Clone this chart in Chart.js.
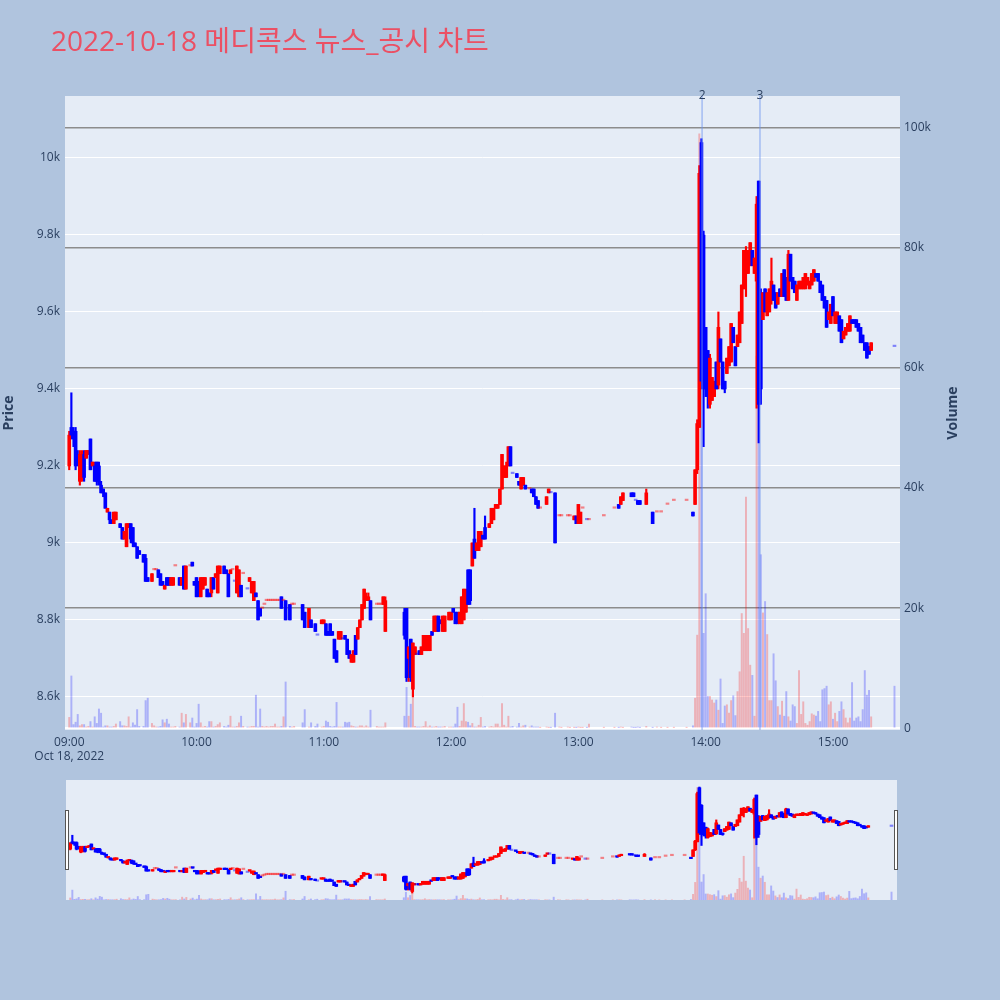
<!DOCTYPE html>
<html>
<head>
<meta charset="utf-8">
<script src="https://cdn.jsdelivr.net/npm/chart.js@4.4.0/dist/chart.umd.min.js"></script>
<style>
  body { margin: 0; background: #b0c4de; width: 1000px; height: 1000px; overflow: hidden; position: relative; }
  #main { position: absolute; left: 0; top: 0; }
  #slider { position: absolute; left: 0; top: 770px; }
</style>
</head>
<body>
<canvas id="main" width="1000" height="770"></canvas>
<canvas id="slider" width="1000" height="230"></canvas>
<script>
// 1분봉, 분 단위 = 09:00 부터 경과 분
const minutes = [
  0,1,2,3,4,5,6,7,8,9, 10,11,12,13,14,15,16,17,18,19, 20,21,22,24,25,26,27,28,29,30,
  31,32,33,35,36,37,39,40,41,42, 43,44,45,46,47,48,49,50,52,53, 54,55,57,58,59,60,61,62,63,64,
  65,66,67,68,69,70,71,73,74,75, 76,77,78,79,80,81,82,84,85,86, 87,88,89,90,91,92,93,94,95,96,
  97,98,99,100,101,102,104,105,106,110, 111,113,114,116,117,119,120,121,122,123, 124,125,126,127,128,129,130,131,132,133,
  134,135,136,137,138,139,140,141,142,145, 146,147,148,149,158,159,160,161,162,163, 164,165,166,167,168,169,170,171,172,173,
  174,175,176,177,179,180,181,182,183,184, 185,186,187,188,189,190,191,192,193,194, 195,196,198,199,200,201,202,203,204,205,
  206,207,208,209,211,212,213,214,215,217, 218,219,220,221,222,225,226,227,229,231, 232,235,236,238,239,240,241,242,244,245,
  252,257,259,260,261,265,266,267,268,269, 272,275,277,279,282,285,291,294,295,296,
  297,298,299,300,301,302,303,304,305,306, 307,308,309,310,311,312,313,314,315,316, 317,318,319,320,321,322,323,324,325,326,
  327,328,329,330,331,332,333,334,335,336, 337,338,339,340,341,342,343,344,345,346, 347,348,349,350,351,352,353,354,355,356,
  357,358,359,360,361,362,363,364,365,366, 367,368,369,370,371,372,373,374,375,376, 377,378,389
];
const opens = [
  9200,9300,9290,9290,9230,9160,9170,9230,9220,9230, 9270,9200,9200,9210,9200,9150,9140,9130,9080,9080, 9060,9050,9060,9050,9040,9010,8990,9040,9050,9040,
  9000,8990,8980,8970,8960,8910,8900,8930,8930,8930, 8920,8900,8880,8910,8910,8890,8890,8940,8910,8890, 8940,8880,8940,8950,8900,8910,8900,8860,8880,8890,
  8880,8870,8870,8910,8910,8870,8920,8940,8930,8920, 8920,8930,8900,8870,8860,8890,8920,8880,8900,8870, 8850,8870,8850,8830,8830,8840,8850,8850,8850,8850,
  8850,8850,8850,8860,8850,8850,8840,8840,8840,8840, 8820,8780,8800,8790,8760,8790,8790,8790,8770,8790, 8770,8750,8720,8750,8750,8750,8760,8750,8720,8690,
  8690,8760,8750,8780,8800,8830,8850,8850,8850,8840, 8840,8840,8840,8770,8820,8830,8700,8750,8620,8710, 8710,8720,8710,8720,8720,8720,8720,8770,8770,8770,
  8810,8800,8770,8770,8800,8800,8830,8820,8820,8790, 8790,8800,8820,8930,8930,8940,9010,8980,8980,8990, 9020,9040,9040,9050,9060,9090,9090,9100,9140,9170,
  9170,9200,9250,9180,9180,9160,9140,9150,9150,9140, 9140,9140,9120,9110,9090,9100,9130,9130,9130,9070, 9070,9070,9070,9060,9070,9050,9050,9090,9060,9060,
  9070,9090,9100,9100,9110,9130,9130,9110,9110,9110, 9100,9080,9080,9080,9100,9110,9110,9080,9100,9190,
  9300,10040,9800,9560,9500,9360,9370,9380,9470,9410, 9530,9470,9420,9440,9460,9470,9560,9510,9510,9520, 9570,9660,9700,9700,9720,9760,9700,9680,9940,9650,
  9580,9660,9590,9600,9630,9670,9650,9620,9660,9640, 9710,9690,9630,9750,9690,9680,9630,9660,9660,9660, 9660,9670,9660,9670,9680,9700,9700,9680,9670,9640,
  9630,9580,9570,9640,9570,9570,9590,9580,9530,9540, 9550,9550,9580,9580,9580,9570,9560,9540,9520,9520, 9510,9500,9510
];
const highs = [
  9290,9390,9300,9300,9240,9240,9240,9240,9240,9240, 9270,9210,9210,9210,9210,9160,9140,9130,9090,9080, 9060,9080,9080,9050,9040,9030,9050,9050,9050,9040,
  9000,8990,8980,8970,8970,8910,8920,8930,8930,8930, 8920,8900,8890,8910,8910,8910,8910,8940,8910,8910, 8940,8940,8940,8950,8900,8910,8900,8910,8910,8910,
  8880,8870,8910,8910,8920,8940,8940,8940,8930,8920, 8930,8930,8900,8940,8930,8890,8920,8880,8910,8900, 8900,8870,8850,8830,8830,8840,8850,8850,8850,8850,
  8850,8850,8850,8860,8850,8850,8840,8840,8840,8840, 8820,8830,8800,8790,8760,8800,8800,8790,8770,8790, 8770,8750,8720,8770,8770,8750,8760,8750,8720,8710,
  8720,8760,8780,8800,8840,8880,8870,8870,8850,8840, 8840,8840,8860,8860,8830,8830,8730,8750,8740,8730, 8710,8720,8730,8760,8760,8760,8760,8770,8810,8810,
  8810,8800,8810,8810,8820,8820,8830,8820,8820,8820, 8860,8880,8880,8930,8930,9000,9090,9000,9030,9030, 9020,9070,9050,9090,9090,9100,9100,9140,9230,9200,
  9210,9250,9250,9180,9180,9160,9170,9170,9150,9140, 9140,9140,9120,9110,9090,9120,9140,9130,9130,9070, 9070,9070,9070,9070,9070,9100,9080,9090,9060,9060,
  9070,9090,9100,9120,9130,9130,9130,9110,9110,9110, 9140,9080,9080,9080,9100,9110,9110,9080,9190,9320,
  9980,10050,9810,9560,9500,9490,9430,9420,9470,9600, 9530,9470,9420,9480,9510,9570,9560,9510,9540,9600, 9670,9760,9770,9760,9780,9760,9740,9900,9940,9660,
  9650,9660,9650,9660,9740,9670,9650,9650,9660,9700, 9710,9690,9760,9750,9690,9680,9670,9680,9680,9690, 9700,9690,9680,9700,9710,9700,9700,9680,9670,9640,
  9630,9600,9620,9640,9600,9600,9590,9580,9550,9560, 9570,9590,9580,9580,9580,9570,9560,9540,9520,9520, 9510,9520,9510
];
const lows = [
  9190,9270,9250,9190,9200,9150,9160,9160,9220,9230, 9190,9200,9160,9150,9150,9130,9120,9090,9080,9050, 9050,9050,9060,9040,9010,9010,8990,9040,9000,8990,
  8990,8960,8970,8950,8900,8900,8900,8930,8930,8910, 8890,8890,8880,8890,8890,8890,8890,8940,8890,8890, 8880,8880,8940,8940,8890,8860,8860,8860,8880,8890,
  8860,8860,8860,8880,8910,8870,8920,8920,8920,8860, 8920,8930,8900,8870,8860,8860,8920,8880,8900,8870, 8850,8860,8800,8810,8830,8840,8850,8850,8850,8850,
  8850,8850,8850,8830,8850,8800,8800,8840,8840,8800, 8780,8780,8780,8770,8760,8790,8790,8760,8760,8760, 8760,8700,8690,8750,8750,8750,8750,8710,8700,8690,
  8690,8710,8750,8780,8800,8830,8850,8850,8800,8840, 8840,8840,8840,8770,8750,8640,8640,8640,8600,8710, 8710,8710,8710,8720,8720,8720,8720,8760,8770,8770,
  8770,8790,8770,8770,8800,8800,8820,8790,8790,8790, 8790,8800,8820,8840,8840,8940,8960,8980,8980,8990, 9010,9010,9040,9050,9060,9090,9090,9100,9140,9170,
  9170,9200,9200,9180,9170,9150,9140,9150,9140,9140, 9130,9120,9100,9090,9090,9100,9130,9130,9000,9070, 9070,9070,9070,9060,9050,9050,9050,9090,9060,9060,
  9070,9090,9090,9100,9110,9120,9120,9110,9100,9100, 9100,9050,9080,9080,9100,9110,9110,9070,9100,9180,
  9300,9400,9250,9380,9350,9350,9370,9380,9400,9400, 9470,9400,9390,9440,9460,9470,9520,9460,9510,9520, 9570,9660,9640,9700,9720,9720,9700,9350,9260,9360,
  9580,9600,9590,9600,9620,9630,9610,9620,9640,9640, 9640,9630,9630,9680,9660,9650,9630,9660,9660,9660, 9660,9670,9660,9670,9680,9690,9680,9650,9630,9610,
  9560,9580,9570,9590,9570,9570,9550,9520,9530,9540, 9550,9550,9570,9570,9560,9550,9520,9520,9500,9480, 9490,9500,9510
];
const closes = [
  9280,9280,9270,9200,9210,9230,9220,9170,9240,9240, 9190,9210,9160,9160,9160,9130,9130,9090,9090,9060, 9050,9080,9080,9040,9010,9030,9050,9050,9010,9000,
  8990,8960,8970,8950,8900,8900,8920,8930,8930,8910, 8890,8890,8890,8890,8890,8910,8910,8940,8890,8910, 8880,8940,8940,8940,8890,8860,8870,8910,8910,8910,
  8860,8860,8910,8880,8920,8940,8940,8920,8920,8860, 8930,8930,8900,8940,8930,8860,8920,8880,8910,8900, 8900,8860,8800,8810,8830,8840,8850,8850,8850,8850,
  8850,8850,8850,8830,8850,8800,8800,8840,8840,8800, 8780,8830,8780,8770,8760,8800,8800,8760,8760,8760, 8760,8700,8690,8770,8770,8750,8750,8710,8700,8710,
  8720,8710,8780,8800,8840,8880,8860,8860,8800,8840, 8840,8840,8860,8850,8760,8650,8730,8650,8740,8730, 8710,8710,8730,8760,8760,8760,8760,8760,8810,8810,
  8770,8790,8810,8810,8820,8820,8820,8790,8790,8820, 8860,8880,8870,8840,8850,9000,8960,9000,9030,9030, 9010,9010,9050,9090,9090,9100,9100,9140,9230,9200,
  9200,9250,9200,9180,9170,9150,9170,9170,9140,9140, 9130,9120,9100,9090,9090,9120,9140,9130,9000,9070, 9070,9070,9070,9070,9050,9100,9080,9090,9060,9060,
  9070,9090,9090,9120,9130,9120,9120,9110,9100,9100, 9130,9050,9080,9080,9100,9110,9110,9070,9190,9310,
  9960,9420,9400,9400,9380,9480,9430,9420,9400,9560, 9470,9400,9400,9480,9510,9570,9520,9460,9540,9600, 9670,9760,9760,9760,9780,9720,9740,9880,9360,9400,
  9650,9600,9650,9660,9680,9630,9610,9650,9640,9700, 9640,9630,9750,9680,9660,9650,9670,9680,9680,9690, 9700,9690,9680,9700,9710,9690,9680,9650,9630,9610,
  9560,9600,9620,9590,9600,9600,9550,9520,9550,9560, 9570,9590,9570,9570,9560,9550,9520,9520,9500,9480, 9490,9520,9510
];
const volumes = [
  1800,8700,600,1000,2300,400,600,600,200,300, 1100,200,1900,800,3200,2500,200,400,400,200, 200,300,700,1100,400,400,300,1900,200,900,
  500,3100,300,300,4600,5000,800,400,200,200, 300,1400,900,1500,700,200,200,300,200,2500, 900,2300,900,1700,200,800,4000,900,200,300,
  200,1100,1100,200,300,600,900,300,200,500, 2000,200,200,300,900,2000,300,200,200,300, 300,5500,200,3200,300,200,300,200,300,300,
  700,200,200,300,1900,7700,300,200,300,900, 3100,200,900,300,700,200,300,1200,1000,300, 200,300,4300,200,200,200,1000,900,1000,400,
  300,200,200,400,400,200,400,200,3000,300, 200,200,200,900,2000,6800,2000,4000,6000,300, 200,200,200,300,1100,200,400,200,200,300,
  200,200,200,300,200,200,200,700,3500,300, 1200,4100,1100,1000,400,800,200,200,500,1800, 200,300,200,300,200,700,700,200,4100,500,
  200,2000,200,300,200,800,200,400,500,200, 400,200,200,200,100,200,100,100,2500,200, 100,200,100,100,100,200,100,100,100,700,
  100,100,100,200,100,200,100,100,200,100, 300,100,200,100,100,100,100,400,5000,15500,
  99000,90000,15800,22400,5300,5300,4700,4200,4700,3000, 8200,800,3700,3900,2500,4600,5400,2100,6100,9400, 19100,15800,38500,16600,10500,8800,2000,62000,70000,28900,
  19200,21100,15600,4600,4600,12400,7900,3600,2200,4500, 2000,6100,1900,1200,3900,3600,800,9600,2300,4400, 800,500,1100,2400,2200,2000,2800,1100,6400,6600,
  7000,3900,4400,1500,2500,1100,2800,4400,3100,1700, 900,1700,7600,1200,1700,1900,1100,3100,9600,5500, 6300,1900,7000
];

// 뉴스/공시 시점 (분)
const newsMinutes = [298.3, 325.6];
const newsLabels = ['2', '3'];

const hourTicks = [0, 60, 120, 180, 240, 300, 360];
const hourLabels = ['09:00', '10:00', '11:00', '12:00', '13:00', '14:00', '15:00'];
const dateLabel = 'Oct 18, 2022';
const priceTicks = [8600, 8800, 9000, 9200, 9400, 9600, 9800, 10000];
const volumeTicks = [0, 20000, 40000, 60000, 80000, 100000];

const titleText = '2022-10-18 메디콕스 뉴스_공시 차트';
const FONT = '"Open Sans", "Noto Sans CJK KR", sans-serif';
Chart.defaults.font.family = FONT;
Chart.defaults.color = '#2a3f5f';

// 양봉/음봉 (보합이면 직전 종가와 비교)
const isUp = minutes.map((m, i) => {
  if (closes[i] !== opens[i]) return closes[i] > opens[i];
  return i === 0 || closes[i] >= closes[i - 1];
});
const isDoji = minutes.map((m, i) => closes[i] === opens[i]);

const makeDatasets = () => [
  {
    label: 'body',
    data: minutes.map((m, i) => ({ x: m, y: [opens[i], closes[i]] })),
    backgroundColor: isUp.map((u, i) => isDoji[i] ? (u ? 'rgba(255,0,0,0.45)' : 'rgba(0,0,255,0.45)') : (u ? '#ff0000' : '#0000ff')),
    barThickness: 3, minBarLength: 1.5, grouped: false, order: 1, yAxisID: 'y'
  },
  {
    label: 'wick',
    data: minutes.map((m, i) => ({ x: m, y: [lows[i], highs[i]] })),
    backgroundColor: isUp.map((u, i) => isDoji[i] ? 'rgba(0,0,0,0)' : (u ? '#ff0000' : '#0000ff')),
    barThickness: 1.5, grouped: false, order: 2, yAxisID: 'y'
  },
  {
    label: 'volume',
    data: minutes.map((m, i) => ({ x: m, y: volumes[i] })),
    backgroundColor: isUp.map(u => u ? 'rgba(255,0,0,0.25)' : 'rgba(0,0,255,0.25)'),
    barThickness: 1.3, grouped: false, order: 3, yAxisID: 'y2'
  }
];

const plotBg = {
  id: 'plotBg',
  beforeDraw(chart) {
    const { ctx, chartArea: a } = chart;
    ctx.save();
    ctx.fillStyle = '#e5ecf6';
    ctx.fillRect(a.left, a.top, a.right - a.left, a.bottom - a.top);
    ctx.restore();
  }
};

const mainDecor = {
  id: 'mainDecor',
  afterDatasetsDraw(chart) {
    const { ctx, chartArea: a, scales } = chart;
    ctx.save();
    newsMinutes.forEach((m, i) => {
      const x = scales.x.getPixelForValue(m);
      ctx.strokeStyle = 'rgba(110,150,240,0.55)';
      ctx.lineWidth = 1.5;
      ctx.beginPath();
      ctx.moveTo(x, a.top);
      ctx.lineTo(x, a.bottom);
      ctx.stroke();
      ctx.fillStyle = '#2a3f5f';
      ctx.font = '12px ' + FONT;
      ctx.textAlign = 'center';
      ctx.textBaseline = 'middle';
      ctx.fillText(newsLabels[i], x, a.top);
    });
    ctx.restore();
  },
  afterDraw(chart) {
    const { ctx, chartArea: a } = chart;
    ctx.save();
    ctx.fillStyle = 'rgb(235,80,100)';
    ctx.font = '28px ' + FONT;
    ctx.textAlign = 'left';
    ctx.textBaseline = 'alphabetic';
    ctx.fillText(titleText, 51, 51);
    ctx.translate(953, (a.top + a.bottom) / 2);
    ctx.rotate(-Math.PI / 2);
    ctx.fillStyle = '#2a3f5f';
    ctx.font = 'bold 14px ' + FONT;
    ctx.textAlign = 'center';
    ctx.textBaseline = 'middle';
    ctx.fillText('Volume', 0, 0);
    ctx.restore();
  }
};

new Chart(document.getElementById('main'), {
  type: 'bar',
  data: { datasets: makeDatasets() },
  options: {
    responsive: false,
    animation: false,
    layout: { padding: { top: 96, left: 0, right: 0, bottom: 0 } },
    plugins: { legend: { display: false }, tooltip: { enabled: false } },
    scales: {
      x: {
        type: 'linear', min: -2, max: 391.6, offset: false,
        grid: { display: false, offset: false },
        border: { display: false },
        afterBuildTicks: s => { s.ticks = hourTicks.map(v => ({ value: v })); },
        afterFit: s => { s.height = 40; },
        ticks: {
          autoSkip: false, maxRotation: 0, padding: -3,
          font: { size: 12 },
          callback: v => {
            const t = hourLabels[hourTicks.indexOf(v)];
            return v === 0 ? [t, dateLabel] : t;
          }
        }
      },
      y: {
        position: 'left', min: 8514, max: 10161,
        grid: { color: '#ffffff', lineWidth: 1, drawTicks: false },
        border: { display: false },
        afterBuildTicks: s => { s.ticks = priceTicks.map(v => ({ value: v })); },
        afterFit: s => { s.width = 65; },
        ticks: { padding: 5, font: { size: 12 }, callback: v => (v / 1000) + 'k' },
        title: { display: true, text: 'Price', font: { size: 14, weight: 'bold' }, padding: { top: 1, bottom: 0 } }
      },
      y2: {
        position: 'right', min: -300, max: 105300,
        grid: {
          drawTicks: false,
          color: c => c.tick && c.tick.value === 0 ? '#ffffff' : 'rgb(140,140,140)',
          lineWidth: c => c.tick && c.tick.value === 0 ? 2 : 1.5
        },
        border: { display: false },
        afterBuildTicks: s => { s.ticks = volumeTicks.map(v => ({ value: v })); },
        afterFit: s => { s.width = 100; },
        ticks: { padding: 4, font: { size: 12 }, callback: v => v === 0 ? '0' : (v / 1000) + 'k' }
      }
    }
  },
  plugins: [plotBg, mainDecor]
});

const sliderHandles = {
  id: 'sliderHandles',
  afterDraw(chart) {
    const { ctx, chartArea: a } = chart;
    const mid = (a.top + a.bottom) / 2;
    ctx.save();
    ctx.fillStyle = '#ffffff';
    ctx.strokeStyle = '#555555';
    ctx.lineWidth = 1;
    [a.left - 1, a.right - 3].forEach(x => {
      ctx.fillRect(x, mid - 30, 4, 60);
      ctx.strokeRect(x + 0.5, mid - 29.5, 3, 59);
    });
    ctx.restore();
  }
};

new Chart(document.getElementById('slider'), {
  type: 'bar',
  data: { datasets: makeDatasets() },
  options: {
    responsive: false,
    animation: false,
    layout: { padding: { top: 10, left: 66, right: 103, bottom: 100 } },
    plugins: { legend: { display: false }, tooltip: { enabled: false } },
    scales: {
      x: { type: 'linear', display: false, min: -2, max: 391.6, offset: false },
      y: { display: false, min: 8504, max: 10146 },
      y2: { display: false, min: 0, max: 105600 }
    }
  },
  plugins: [plotBg, sliderHandles]
});
</script>
</body>
</html>
